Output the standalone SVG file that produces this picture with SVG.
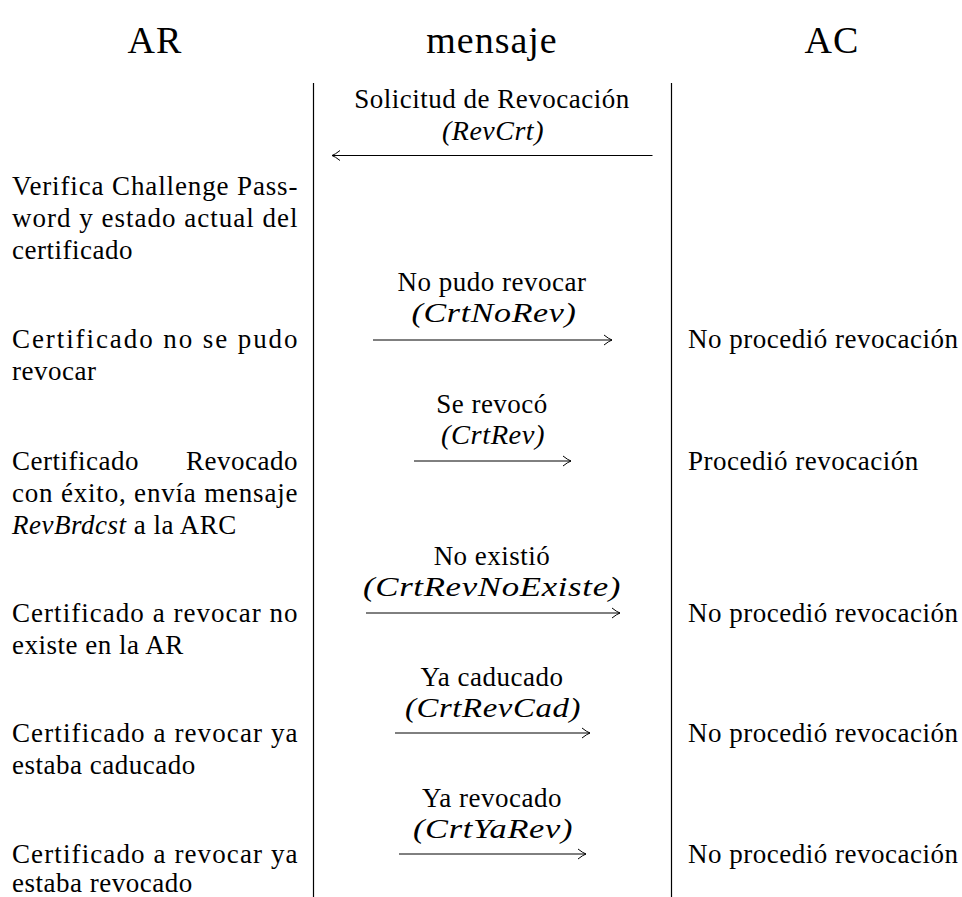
<svg xmlns="http://www.w3.org/2000/svg" width="962" height="897" viewBox="0 0 962 897">
<defs>
<style>
text{font-family:"Liberation Serif","Times New Roman",serif;fill:#000}
.h{font-size:38px;letter-spacing:1px;text-anchor:middle}
.t{font-size:27px;letter-spacing:0.5px}
.m{text-anchor:middle}
.i{font-style:italic}
.e{text-anchor:end}
.rule{stroke:#000;stroke-width:1.2}
.arr{stroke:#000;stroke-width:1;fill:none;marker-end:url(#ah)}
</style>
<marker id="ah" markerUnits="userSpaceOnUse" markerWidth="12" markerHeight="12" viewBox="-10 -6 12 12" refX="0" refY="0" orient="auto">
<path d="M-8,-5 Q-3,-1 0,0 Q-3,1 -8,5" fill="none" stroke="#000" stroke-width="1"/>
</marker>
</defs>
<rect width="962" height="897" fill="#fff"/>
<g id="headers">
<text class="h" x="155" y="53">AR</text>
<text class="h" x="492" y="53">mensaje</text>
<text class="h" x="832" y="53">AC</text>
</g>
<g id="lanes">
<line class="rule" x1="313.5" y1="83" x2="313.5" y2="897"/>
<line class="rule" x1="671.5" y1="83" x2="671.5" y2="897"/>
</g>
<g id="row1">
<text class="t m" x="492" y="108">Solicitud de Revocación</text>
<text class="t m i" x="493" y="140" textLength="102" lengthAdjust="spacingAndGlyphs">(RevCrt)</text>
<text class="t" x="12" y="195" textLength="286" lengthAdjust="spacing">Verifica Challenge Pass-</text>
<text class="t" x="12" y="227" textLength="286" lengthAdjust="spacing">word y estado actual del</text>
<text class="t" x="12" y="259">certificado</text>
</g>
<g id="row2">
<text class="t m" x="492" y="291">No pudo revocar</text>
<text class="t m i" x="494" y="322" textLength="165" lengthAdjust="spacingAndGlyphs">(CrtNoRev)</text>
<text class="t" x="12" y="348" textLength="286" lengthAdjust="spacing">Certificado no se pudo</text>
<text class="t" x="12" y="380">revocar</text>
<text class="t" x="688" y="348">No procedió revocación</text>
</g>
<g id="row3">
<text class="t m" x="492" y="413">Se revocó</text>
<text class="t m i" x="493" y="444" textLength="104" lengthAdjust="spacingAndGlyphs">(CrtRev)</text>
<text class="t" x="12" y="470">Certificado</text>
<text class="t e" x="298" y="470">Revocado</text>
<text class="t" x="12" y="502" textLength="286" lengthAdjust="spacing">con éxito, envía mensaje</text>
<text class="t" x="12" y="534"><tspan class="i">RevBrdcst</tspan> a la ARC</text>
<text class="t" x="688" y="470">Procedió revocación</text>
</g>
<g id="row4">
<text class="t m" x="492" y="565">No existió</text>
<text class="t m i" x="492" y="596" textLength="258" lengthAdjust="spacingAndGlyphs">(CrtRevNoExiste)</text>
<text class="t" x="12" y="622" textLength="286" lengthAdjust="spacing">Certificado a revocar no</text>
<text class="t" x="12" y="654">existe en la AR</text>
<text class="t" x="688" y="622">No procedió revocación</text>
</g>
<g id="row5">
<text class="t m" x="492" y="686">Ya caducado</text>
<text class="t m i" x="493" y="717" textLength="176" lengthAdjust="spacingAndGlyphs">(CrtRevCad)</text>
<text class="t" x="12" y="742" textLength="286" lengthAdjust="spacing">Certificado a revocar ya</text>
<text class="t" x="12" y="774">estaba caducado</text>
<text class="t" x="688" y="742">No procedió revocación</text>
</g>
<g id="row6">
<text class="t m" x="492" y="807">Ya revocado</text>
<text class="t m i" x="493" y="838" textLength="160" lengthAdjust="spacingAndGlyphs">(CrtYaRev)</text>
<text class="t" x="12" y="863" textLength="286" lengthAdjust="spacing">Certificado a revocar ya</text>
<text class="t" x="12" y="892">estaba revocado</text>
<text class="t" x="688" y="863">No procedió revocación</text>
</g>
<g id="connectors">
<line class="arr" x1="652.5" y1="155.5" x2="332" y2="155.5"/>
<line class="arr" x1="373" y1="340" x2="612" y2="340"/>
<line class="arr" x1="414" y1="461" x2="571" y2="461"/>
<line class="arr" x1="366" y1="613" x2="620" y2="613"/>
<line class="arr" x1="395" y1="733" x2="590" y2="733"/>
<line class="arr" x1="399" y1="854" x2="586" y2="854"/>
</g>
</svg>
